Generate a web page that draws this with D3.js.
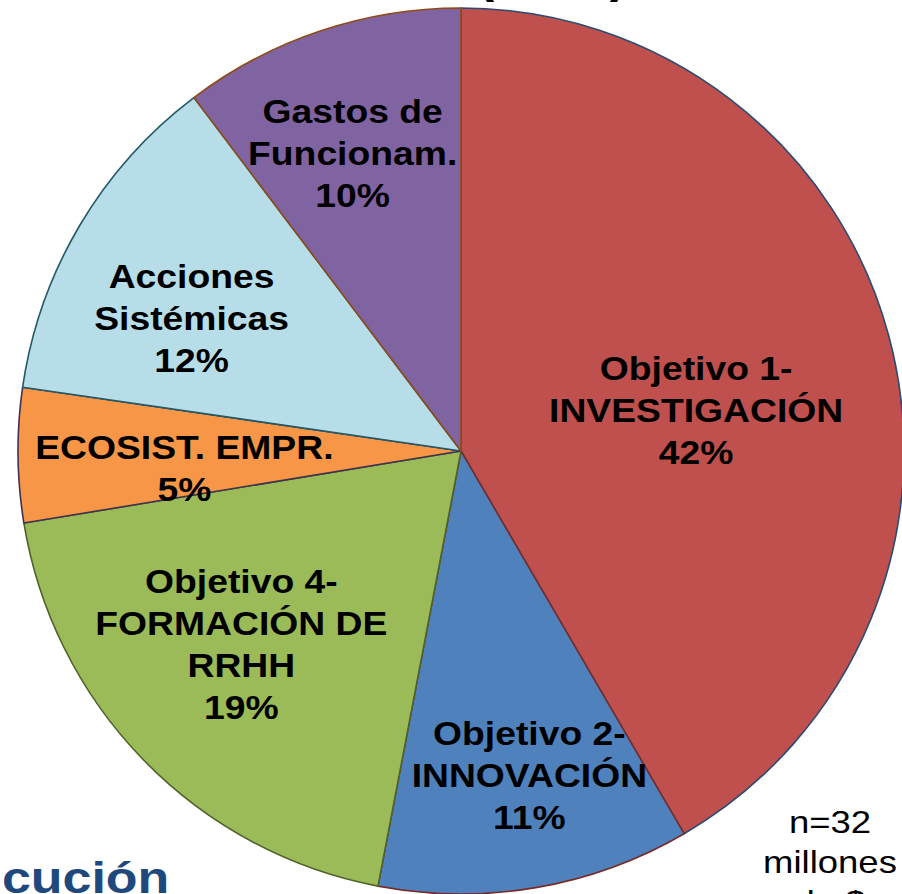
<!DOCTYPE html>
<html>
<head>
<meta charset="utf-8">
<script src="https://cdn.jsdelivr.net/npm/d3@7/dist/d3.min.js"></script>
<style>
  html, body { margin: 0; padding: 0; background: #ffffff; }
  svg { display: block; }
  text { font-family: "Liberation Sans", Arial, sans-serif; }
</style>
</head>
<body>
<svg id="chart" width="902" height="894"></svg>
<script>
// ---- data ----
const categories = [
  ["Objetivo 1-", "INVESTIGACIÓN"],
  ["Objetivo 2-", "INNOVACIÓN"],
  ["Objetivo 4-", "FORMACIÓN DE", "RRHH"],
  ["ECOSIST. EMPR."],
  ["Acciones", "Sistémicas"],
  ["Gastos de", "Funcionam."]
];
const values = [41.6, 11.4, 19.4, 4.9, 12.4, 10.3];
const percentLabels = ["42%", "11%", "19%", "5%", "12%", "10%"];
const fillColors = ["#C0504D", "#4F81BD", "#9BBB59", "#F79646", "#B7DEE8", "#8064A2"];
const strokeColors = ["#2B4B72", "#772C2A", "#4F6228", "#403152", "#215968", "#8E4B17"];
const noteLines = ["n=32", "millones", "de $"];
const titleText = "(2009)";
const footerText = "cución";

// ---- layout ----
const svg = d3.select("#chart");
const cx = 461, cy = 451, R = 443;
const labelNudge = [[-30, 31], [22, 53], [-23, 1], [-2, 14], [-33, 7], [-21, -38]];
const stretch = 1.13;

const pie = d3.pie().sort(null).value(d => d)(values);
const arc = d3.arc().innerRadius(0).outerRadius(R);
const labelArc = d3.arc().innerRadius(R * 0.62).outerRadius(R * 0.62);

const g = svg.append("g").attr("transform", `translate(${cx},${cy})`);

g.selectAll("path.slice")
  .data(pie)
  .enter().append("path")
  .attr("class", "slice")
  .attr("d", arc)
  .attr("fill", (d, i) => fillColors[i])
  .attr("stroke", (d, i) => strokeColors[i])
  .attr("stroke-width", 1.6)
  .attr("stroke-linejoin", "round");

const labels = g.selectAll("g.lbl")
  .data(pie)
  .enter().append("g")
  .attr("class", "lbl")
  .attr("transform", (d, i) => {
    const c = labelArc.centroid(d);
    return `translate(${c[0] + labelNudge[i][0]},${c[1] + labelNudge[i][1]}) scale(${stretch},1)`;
  });

labels.each(function(d, i) {
  const lines = categories[i].concat([percentLabels[i]]);
  const n = lines.length;
  const t = d3.select(this).append("text")
    .attr("text-anchor", "middle")
    .attr("font-weight", "bold")
    .attr("font-size", 33)
    .attr("fill", "#000");
  lines.forEach((ln, k) => {
    t.append("tspan")
      .attr("x", 0)
      .attr("y", (k - (n - 1) / 2) * 42 + 12)
      .text(ln);
  });
});

// note at bottom right
const note = svg.append("g").attr("transform", `translate(830,0) scale(1.14,1)`);
const nt = note.append("text")
  .attr("text-anchor", "middle")
  .attr("font-size", 32)
  .attr("fill", "#000");
noteLines.forEach((ln, k) => {
  nt.append("tspan").attr("x", 0).attr("y", 833 + k * 40).text(ln);
});

// partially visible title at top
svg.append("text")
  .attr("x", 477)
  .attr("y", -8)
  .attr("font-size", 48)
  .attr("font-weight", "bold")
  .attr("fill", "#000")
  .attr("textLength", 150)
  .attr("lengthAdjust", "spacingAndGlyphs")
  .text(titleText);

// partially visible footer at bottom left
svg.append("g").attr("transform", "translate(2,893) scale(1.18,1)")
  .append("text")
  .attr("font-size", 44)
  .attr("font-weight", "bold")
  .attr("fill", "#1F497D")
  .text(footerText);
</script>
</body>
</html>
